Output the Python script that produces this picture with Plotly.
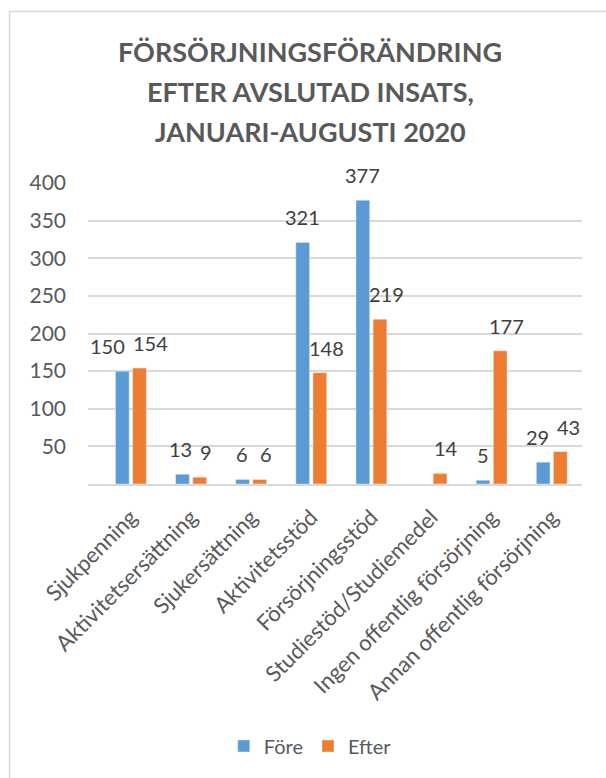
import plotly.graph_objects as go

categories = ["Sjukpenning", "Aktivitetsersättning", "Sjukersättning", "Aktivitetsstöd",
              "Försörjningsstöd", "Studiestöd/Studiemedel", "Ingen offentlig försörjning",
              "Annan offentlig försörjning"]
fore = [150, 13, 6, 321, 377, None, 5, 29]
efter = [154, 9, 6, 148, 219, 14, 177, 43]
series_names = ["Före", "Efter"]
tick_values = [50, 100, 150, 200, 250, 300, 350, 400]
title_lines = ["FÖRSÖRJNINGSFÖRÄNDRING", "EFTER AVSLUTAD INSATS,", "JANUARI-AUGUSTI 2020"]

W, H = 606, 778
L, R, T, B = 88, 24, 183, 294
pw, ph = W - L - R, H - T - B
BLUE, ORANGE = "#5B9BD5", "#ED7D31"
FONT = "Lato"
GRID = "#D9D9D9"


def px_x(p):
    return (p - L) / pw


def px_y(p):
    return (H - B - p) / ph


fig = go.Figure()
fig.add_trace(go.Bar(name=series_names[0], x=categories, y=fore, marker_color=BLUE))
fig.add_trace(go.Bar(name=series_names[1], x=categories, y=efter, marker_color=ORANGE))

# data labels as annotations with simple collision avoidance
slot = pw / len(categories)
bargap = 0.43
bar_off = slot * (1 - bargap) / 4
char_w = 11.7
px_per_unit = ph / 400
for c, f, e in zip(categories, fore, efter):
    fx = -bar_off
    ex = bar_off + 6
    if f is not None and e is not None:
        fw, ew = len(str(f)) * char_w, len(str(e)) * char_w
        need = (fw + ew) / 2 + 8
        if abs(f - e) * px_per_unit < 24 and (ex - fx) < need:
            push = (need - (ex - fx)) / 2
            fx -= push * 1.5
            ex += push * 0.5
    for v, xs in ((f, fx), (e, ex)):
        if v is None:
            continue
        fig.add_annotation(x=c, y=v, text=str(v), showarrow=False, xshift=xs,
                           yanchor="bottom", yshift=11,
                           font=dict(family=FONT, size=20, color="#404040"))

# title lines
for line, ypx in zip(title_lines, [52, 91.5, 131]):
    fig.add_annotation(xref="paper", yref="paper", x=px_x(310), y=px_y(ypx),
                       text=f"<b>{line}</b>", showarrow=False,
                       xanchor="center", yanchor="middle",
                       font=dict(family=FONT, size=27, color="#595959"))

# chart border (only top and left visible in the crop)
fig.add_shape(type="rect", xref="paper", yref="paper",
              x0=px_x(9.5), x1=px_x(640), y0=px_y(800), y1=px_y(11.5),
              line=dict(color=GRID, width=1.5), fillcolor="rgba(0,0,0,0)", layer="below")

fig.update_layout(
    width=W, height=H,
    margin=dict(l=L, r=R, t=T, b=B, autoexpand=False),
    paper_bgcolor="white", plot_bgcolor="white",
    barmode="group", bargap=bargap, bargroupgap=0.2,
    legend=dict(orientation="h", xref="container", x=0.512, xanchor="center",
                yref="container", y=1 - 746 / H, yanchor="middle",
                font=dict(family=FONT, size=20, color="#595959"),
                itemwidth=30, traceorder="normal"),
    font=dict(family=FONT, color="#595959"),
)
fig.update_xaxes(showline=True, linecolor=GRID, linewidth=1.5, tickangle=-45,
                 tickfont=dict(family=FONT, size=22, color="#595959"), showgrid=False,
                 ticks="", ticklabelstandoff=10)
fig.update_yaxes(range=[0, 400], tickvals=tick_values, showgrid=True, gridcolor=GRID,
                 gridwidth=1.5, zeroline=False, ticks="", ticklabelstandoff=21,
                 tickfont=dict(family=FONT, size=21, color="#595959"))

fig.write_html("out.html", post_script="document.body.style.margin='0';",
               config={"displayModeBar": False})
